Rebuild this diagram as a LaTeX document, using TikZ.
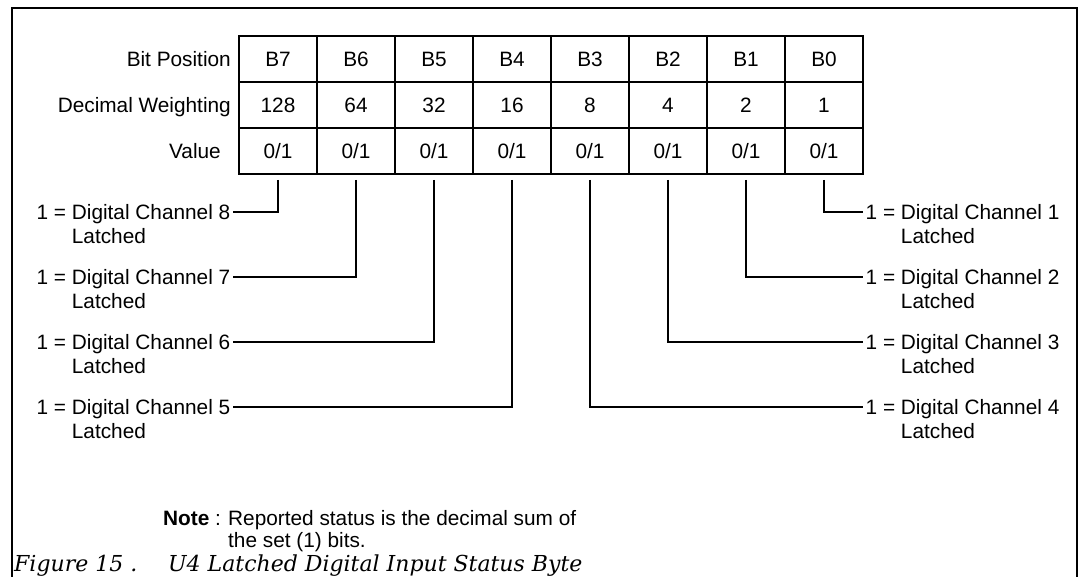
\documentclass[tikz,border=0pt]{standalone}
\usepackage{fontspec}
\setmainfont{Liberation Sans}
\newfontfamily\capfont{DejaVu Serif}
\usetikzlibrary{calc}
\begin{document}
\begin{tikzpicture}[x=1pt,y=-1pt,
  txt/.style={inner sep=0pt, font=\fontsize{20.8}{25}\selectfont},
  cell/.style={draw, line width=1.7pt, minimum width=78pt, minimum height=46pt, inner sep=0pt, font=\fontsize{20.8}{25}\selectfont},
  chan/.style={txt, text height=14.5pt, text depth=0pt, inner xsep=2.5pt},
  conn/.style={line width=1.5pt},
  frame/.style={line width=2.2pt},
  capt/.style={inner sep=0pt, font=\capfont\itshape\fontsize{22}{26}\selectfont}]
\useasboundingbox (0,0) rectangle (1083,576);
% outer frame
\draw[frame] (12,577) -- (12,8) -- (1077,8) -- (1077,577);
% table
\foreach \w [count=\i from 0] in {128,64,32,16,8,4,2,1} {
  \pgfmathtruncatemacro\bit{7-\i}
  \node[cell] (bp\bit) at (278+78*\i, 59) {B\bit};
  \node[cell] (dw\bit) at (278+78*\i, 105) {\w};
  \node[cell] (v\bit)  at (278+78*\i, 151) {0/1};
}
\node[txt, anchor=base east] (lbp) at (231, 66) {Bit Position};
\node[txt, anchor=base east] (ldw) at (231, 112) {Decimal Weighting};
\node[txt, anchor=base east] (lv)  at (221, 158) {Value};
% left channel labels
\foreach \c/\y in {8/212,7/277,6/342,5/407} {
  \node[chan, anchor=east] (ch\c) at (233,\y) {1 = Digital Channel \c};
  \node[txt, anchor=base west] (lat\c) at ($(ch\c.base west)+(2.5,24)$) {\phantom{1 = }Latched};
}
% right channel labels
\foreach \c/\y in {1/212,2/277,3/342,4/407} {
  \node[chan, anchor=west] (ch\c) at (863,\y) {1 = Digital Channel \c};
  \node[txt, anchor=base west] (lat\c) at ($(ch\c.base west)+(2.5,24)$) {\phantom{1 = }Latched};
}
% connectors
\draw[conn] ([yshift=-5pt]v7.south) |- (ch8.east);
\draw[conn] ([yshift=-5pt]v6.south) |- (ch7.east);
\draw[conn] ([yshift=-5pt]v5.south) |- (ch6.east);
\draw[conn] ([yshift=-5pt]v4.south) |- (ch5.east);
\draw[conn] ([yshift=-5pt]v3.south) |- (ch4.west);
\draw[conn] ([yshift=-5pt]v2.south) |- (ch3.west);
\draw[conn] ([yshift=-5pt]v1.south) |- (ch2.west);
\draw[conn] ([yshift=-5pt]v0.south) |- (ch1.west);
% note
\node[txt, anchor=base west] (note) at (163, 525) {\textbf{Note} :};
\node[txt, anchor=base west] (notetxt) at (228, 525) {Reported status is the decimal sum of};
\node[txt, anchor=base west] (note2) at (228, 547) {the set (1) bits.};
% caption
\node[capt, anchor=base west] (fig) at (14, 571.5) {Figure 15 .};
\node[capt, anchor=base west] (figt) at (168, 571.5) {U4 Latched Digital Input Status Byte};
\end{tikzpicture}
\end{document}
